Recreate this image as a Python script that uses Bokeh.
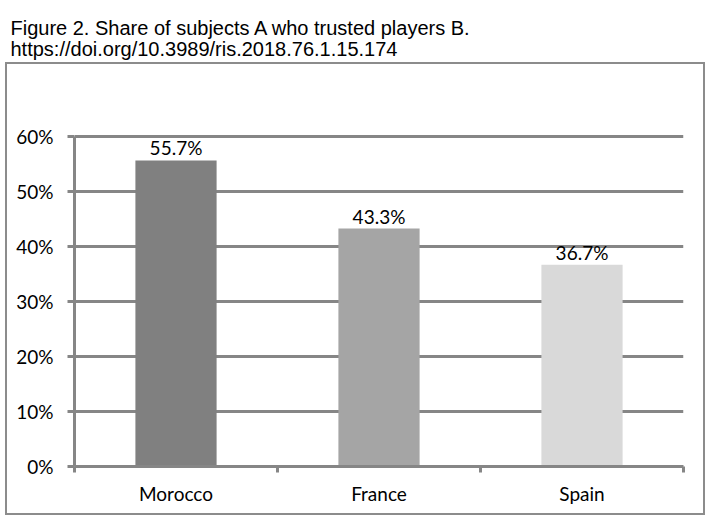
from bokeh.plotting import figure
from bokeh.layouts import column, row
from bokeh.models import Range1d, FixedTicker, NumeralTickFormatter, ColumnDataSource
from bokeh.core.properties import value
from bokeh.embed import file_html
from bokeh.resources import INLINE

categories = ["Morocco", "France", "Spain"]
shares = [0.557, 0.433, 0.367]
bar_colors = ["#808080", "#a5a5a5", "#d9d9d9"]
share_labels = ["55.7%", "43.3%", "36.7%"]
y_ticks = [0, 0.1, 0.2, 0.3, 0.4, 0.5, 0.6]
title_lines = ["Figure 2. Share of subjects A who trusted players B.",
               "https://doi.org/10.3989/ris.2018.76.1.15.174"]

# ---- title strip (pixel-like data coords) ----
TW, TH = 717, 62
t = figure(frame_width=TW, frame_height=TH, output_backend="svg", toolbar_location=None,
           x_range=Range1d(0, TW), y_range=Range1d(0, TH),
           x_axis_location=None, y_axis_location=None,
           min_border=0, min_border_left=0, min_border_right=0, min_border_top=0, min_border_bottom=0)
t.outline_line_color = None
t.grid.visible = False
t.text(x=[10, 10], y=[TH - 27, TH - 48], text=title_lines, text_baseline="alphabetic",
       text_align="left", text_font=value("Liberation Sans"), text_font_size="20px",
       text_color="#000000")

# ---- chart ----
xs = [i + 0.5 for i in range(len(categories))]
src = ColumnDataSource(dict(x=xs, top=shares, color=bar_colors, label=share_labels))

p = figure(width=700, height=453, output_backend="svg", toolbar_location=None,
           x_range=Range1d(0, len(categories)), y_range=Range1d(0, 0.606),
           min_border_left=67, min_border_right=24, min_border_top=69, min_border_bottom=51)
p.outline_line_color = None
p.background_fill_color = "white"
p.border_fill_color = "white"
p.styles = {"border": "2px solid #8c8c8c"}
p.margin = (0, 0, 0, 5)

grid_col = "#868686"
font = "Lato"

p.vbar(x="x", top="top", bottom=0, width=0.4, fill_color="color", line_color=None, source=src)
p.text(x="x", y="top", text="label", source=src, text_align="center", text_baseline="bottom",
       y_offset=-1, text_font=value(font), text_font_size="19px", text_color="#000000")

p.yaxis.ticker = FixedTicker(ticks=y_ticks, minor_ticks=[])
p.yaxis.formatter = NumeralTickFormatter(format="0%")
p.yaxis.bounds = (0, 0.6)
p.yaxis.axis_line_color = grid_col
p.yaxis.axis_line_width = 3
p.yaxis.major_tick_line_color = grid_col
p.yaxis.major_tick_line_width = 3
p.yaxis.major_tick_out = 7
p.yaxis.major_tick_in = 0
p.yaxis.major_label_standoff = 14
p.yaxis.major_label_text_font = font
p.yaxis.major_label_text_font_size = "19px"
p.yaxis.major_label_text_color = "#000000"

p.xaxis.ticker = FixedTicker(ticks=xs, minor_ticks=list(range(len(categories) + 1)))
p.xaxis.major_label_overrides = {x: c for x, c in zip(xs, categories)}
p.xaxis.axis_line_color = grid_col
p.xaxis.axis_line_width = 3
p.xaxis.major_tick_line_color = None
p.xaxis.major_tick_out = 0
p.xaxis.major_tick_in = 0
p.xaxis.minor_tick_line_color = grid_col
p.xaxis.minor_tick_line_width = 3
p.xaxis.minor_tick_out = 6
p.xaxis.minor_tick_in = 0
p.xaxis.major_label_standoff = 9
p.xaxis.major_label_text_font = font
p.xaxis.major_label_text_font_size = "19px"
p.xaxis.major_label_text_color = "#000000"

p.xgrid.grid_line_color = None
p.ygrid.ticker = FixedTicker(ticks=y_ticks)
p.ygrid.grid_line_color = grid_col
p.ygrid.grid_line_width = 3

layout = column(row(t), p, spacing=0)
open("out.html", "w").write(file_html(layout, INLINE))
